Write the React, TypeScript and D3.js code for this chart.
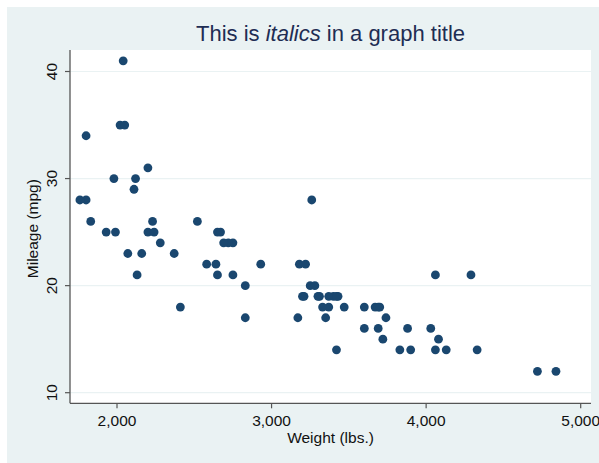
import React from "react";
import * as d3 from "d3";

const weight = [2930,3350,2640,3250,4080,3670,2230,3280,3880,3400,4330,3900,4290,2110,3690,3180,3220,2750,3430,2120,3600,3600,3740,1800,2650,4840,4720,3830,2580,4060,3720,3370,4130,2830,4060,3310,3300,3690,3370,2720,4030,3260,1800,2200,2520,3330,3700,3470,3210,3200,3420,2690,2830,2070,2650,2370,2020,2280,2750,2130,2240,1760,1980,3420,1830,2050,2410,2200,2670,2160,2040,1930,1990,3170];
const mpg = [22,17,22,20,15,18,26,20,16,19,14,14,21,29,16,22,22,24,19,30,18,16,17,28,21,12,12,14,22,14,15,18,14,20,21,19,19,18,19,24,16,28,34,25,26,18,18,18,19,19,19,24,17,23,25,23,35,24,21,21,25,28,30,14,26,35,18,31,25,23,41,25,25,17];
const xTicks = [2000, 3000, 4000, 5000];
const yTicks = [10, 20, 30, 40];

const W = 599, H = 463;
const font = "'Liberation Sans', Arial, Helvetica, sans-serif";

export default function App() {
  const left = 70, right = 591, top = 50, bottom = 403.3;
  const x = d3.scaleLinear().domain([2000, 5000]).range([117, 580.7]);
  const y = d3.scaleLinear().domain([10, 40]).range([392.7, 71.5]);
  const fmt = d3.format(",");
  return (
    <svg width={W} height={H} style={{ position: "absolute", left: 0, top: 0 }}>
      <rect x={7} y={7} width={W - 7} height={H - 7} fill="#eaf2f3" />
      <rect x={left} y={top} width={right - left} height={bottom - top} fill="#ffffff" />
      {yTicks.map((t) => (
        <line key={"g" + t} x1={left} x2={right} y1={y(t)} y2={y(t)} stroke="#eaf2f3" strokeWidth={1.2} />
      ))}
      {weight.map((w, i) => (
        <circle key={i} cx={x(w)} cy={y(mpg[i])} r={4.4} fill="#1a476f" />
      ))}
      <line x1={left} x2={left} y1={top} y2={bottom} stroke="#555" strokeWidth={1.3} />
      <line x1={left} x2={right} y1={bottom} y2={bottom} stroke="#555" strokeWidth={1.3} />
      {yTicks.map((t) => (
        <g key={"y" + t}>
          <line x1={left - 5} x2={left} y1={y(t)} y2={y(t)} stroke="#555" strokeWidth={1.2} />
          <text transform={`translate(56.5,${y(t)}) rotate(-90)`} textAnchor="middle" fontFamily={font} fontSize={15.5} fill="#111">{t}</text>
        </g>
      ))}
      {xTicks.map((t) => (
        <g key={"x" + t}>
          <line x1={x(t)} x2={x(t)} y1={bottom} y2={bottom + 5} stroke="#555" strokeWidth={1.2} />
          <text x={x(t)} y={425.5} textAnchor="middle" fontFamily={font} fontSize={15.5} fill="#111">{fmt(t)}</text>
        </g>
      ))}
      <text x={(left + right) / 2} y={443} textAnchor="middle" fontFamily={font} fontSize={15.5} fill="#111">Weight (lbs.)</text>
      <text transform={`translate(38,${(top + bottom) / 2 + 2}) rotate(-90)`} textAnchor="middle" fontFamily={font} fontSize={15.5} fill="#111">Mileage (mpg)</text>
      <text x={(left + right) / 2} y={41} textAnchor="middle" fontFamily={font} fontSize={22} fill="#1e2d53">
        This is <tspan fontStyle="italic">italics</tspan> in a graph title
      </text>
    </svg>
  );
}
